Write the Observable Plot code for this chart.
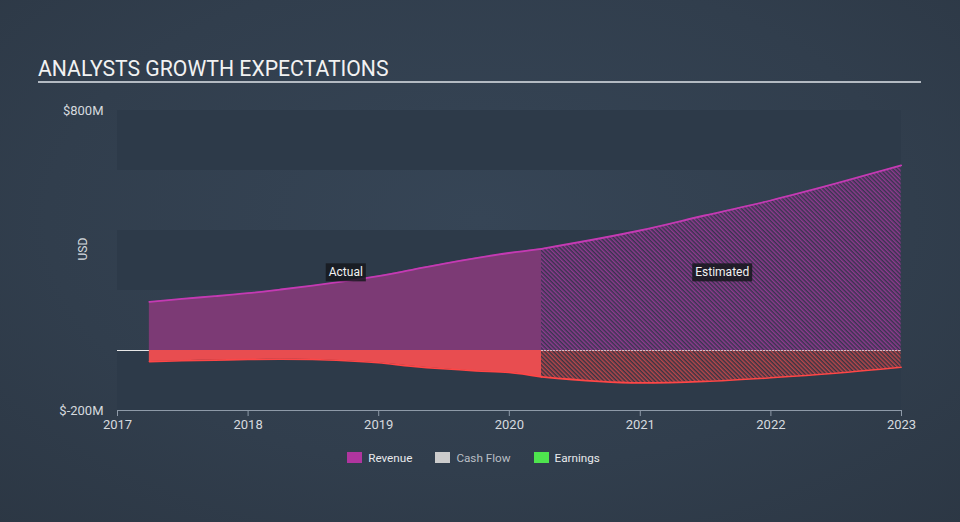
<!DOCTYPE html>
<html>
<head>
<meta charset="utf-8">
<script src="https://cdn.jsdelivr.net/npm/d3@7"></script>
<script src="https://cdn.jsdelivr.net/npm/@observablehq/plot@0.6"></script>
<style>
html, body { margin: 0; padding: 0; }
body {
  width: 960px; height: 522px; overflow: hidden; position: relative;
  background: radial-gradient(ellipse 75% 80% at 50% 42%, #364556 0%, #313e4d 60%, #2c3744 100%);
  font-family: Roboto, "Noto Sans", sans-serif;
}
#title { position: absolute; left: 38px; top: 57.8px; font-size: 21.2px; line-height: 21.2px; color: #f2f2f2; white-space: nowrap; }
#titleRule { position: absolute; left: 38px; top: 81px; width: 883px; height: 1.5px; background: #b3bac2; }
#chart { position: absolute; left: 0; top: 90px; }
#chart svg text { fill: #d6dadf; }
#legend { position: absolute; top: 451px; left: 0; width: 947px; height: 13px; display: flex; justify-content: center; align-items: center; font-size: 11.7px; color: #e6e8ea; }
.item { display: flex; align-items: center; margin: 0 11.5px; }
.sw { width: 15px; height: 11px; margin-right: 6px; }
</style>
</head>
<body>
<div id="title">ANALYSTS GROWTH EXPECTATIONS</div>
<div id="titleRule"></div>
<div id="chart"></div>
<div id="legend"></div>
<script>
// ---- data ----
const actualDates = ["2017-03-31","2017-06-30","2017-09-30","2017-12-31","2018-03-31","2018-06-30","2018-09-30","2018-12-31","2019-03-31","2019-06-30","2019-09-30","2019-12-31","2020-03-31"];
const actualRevenue = [162,172,181,191,203,216,231,248,268,289,308,325,339];
const actualEarnings = [-37,-34,-32,-30,-29,-30,-34,-41,-52,-61,-68,-73,-88];
const estDates = ["2020-03-31","2020-12-31","2021-06-30","2021-12-31","2022-06-30","2022-12-31"];
const estRevenue = [339,400,450,500,556,617];
const estEarnings = [-88,-108,-103,-91,-76,-56];
const xTickYears = [2017,2018,2019,2020,2021,2022,2023];
const yTicks = [-200, 800];
const bandLow = [600, 200, -200];
const bandHigh = [800, 400, 0];
const labelNames = ["Actual", "Estimated"];
const labelDates = ["2018-10-01", "2021-08-18"];
const labelValues = [260, 260];
const legendNames = ["Revenue", "Cash Flow", "Earnings"];
const legendColors = ["#b0359f", "#cccccc", "#4ee44e"];

// ---- build tables ----
const toDate = s => new Date(s + "T00:00:00Z");
const actual = actualDates.map((d, i) => ({date: toDate(d), revenue: actualRevenue[i], earnings: actualEarnings[i]}));
const est = estDates.map((d, i) => ({date: toDate(d), revenue: estRevenue[i], earnings: estEarnings[i]}));
const xDomain = [new Date(Date.UTC(xTickYears[0], 0, 1)), new Date(Date.UTC(xTickYears[xTickYears.length - 1], 0, 1))];
const xTicks = xTickYears.map(y => new Date(Date.UTC(y, 0, 1)));
const bands = bandLow.map((b, i) => ({y1: b, y2: bandHigh[i]}));
const labels = labelNames.map((t, i) => ({text: t, date: toDate(labelDates[i]), value: labelValues[i]}));
const estStart = est[0].date, estEnd = est[est.length - 1].date;

const curve = "monotone-x";
const chart = Plot.plot({
  width: 960,
  height: 350,
  marginLeft: 117,
  marginRight: 59,
  marginTop: 20,
  marginBottom: 30,
  style: {background: "transparent", color: "#8e9aa8", fontFamily: "Roboto, sans-serif", fontSize: "13px", overflow: "visible"},
  x: {type: "utc", domain: xDomain, ticks: xTicks, tickFormat: d => String(d.getUTCFullYear()), tickSize: 6, tickPadding: 3, line: true, label: null},
  y: {domain: [-200, 800], ticks: yTicks, tickFormat: d => `$${d}M`, tickSize: 0, tickPadding: 14, label: null},
  marks: [
    Plot.rect(bands, {x1: () => xDomain[0], x2: () => xDomain[1], y1: "y1", y2: "y2", fill: "#2d3a49"}),
    Plot.ruleY([0], {stroke: "#e8e8e8", strokeWidth: 1}),
    Plot.areaY(actual, {x: "date", y1: 0, y2: "revenue", fill: "#7c3a75", curve}),
    Plot.areaY(actual, {x: "date", y1: 0, y2: "earnings", fill: "#e84d50", curve}),
    Plot.areaY(est, {x: "date", y1: 0, y2: "revenue", fill: "url(#hatchRev)", curve}),
    Plot.areaY(est, {x: "date", y1: 0, y2: "earnings", fill: "url(#hatchEarn)", curve}),
    Plot.ruleY([0], {x1: () => estStart, x2: () => estEnd, stroke: "#f0dcea", strokeOpacity: 0.75, strokeWidth: 1, strokeDasharray: "2,1"}),
    Plot.line(actual, {x: "date", y: "revenue", stroke: "#c43ab3", strokeWidth: 1.8, curve}),
    Plot.line(est, {x: "date", y: "revenue", stroke: "#c43ab3", strokeWidth: 1.8, curve}),
    Plot.line(actual, {x: "date", y: "earnings", stroke: "#ff4646", strokeWidth: 1.6, curve}),
    Plot.line(est, {x: "date", y: "earnings", stroke: "#ff4646", strokeWidth: 1.6, curve}),
    Plot.text(["USD"], {frameAnchor: "left", dx: -34.5, rotate: -90, text: d => d, fontSize: 12}),
    Plot.text(labels, {x: "date", y: "value", text: "text", fontSize: 12})
  ]
});

d3.select(chart).insert("defs", ":first-child").html(`
  <pattern id="hatchRev" width="3" height="3" patternUnits="userSpaceOnUse" patternTransform="rotate(-45)">
    <rect width="3" height="3" fill="#3b3050" fill-opacity="0.7"></rect>
    <rect x="0" y="0" width="1.5" height="3" fill="#8e3a8e"></rect>
  </pattern>
  <pattern id="hatchEarn" width="3" height="3" patternUnits="userSpaceOnUse" patternTransform="rotate(-45)">
    <rect width="3" height="3" fill="#3a3240" fill-opacity="0.7"></rect>
    <rect x="0" y="0" width="1.5" height="3" fill="#b8464a"></rect>
  </pattern>`);

document.getElementById("chart").appendChild(chart);

// boxes behind the Actual / Estimated labels
d3.select(chart).selectAll("text").each(function() {
  if (labelNames.includes(this.textContent)) {
    const b = this.getBBox();
    const tr = this.getAttribute("transform");
    const r = document.createElementNS("http://www.w3.org/2000/svg", "rect");
    r.setAttribute("x", b.x - 3);
    r.setAttribute("y", b.y - 2);
    r.setAttribute("width", b.width + 6);
    r.setAttribute("height", b.height + 4);
    r.setAttribute("fill", "#16191d");
    r.setAttribute("fill-opacity", "0.85");
    if (tr) r.setAttribute("transform", tr);
    this.parentNode.insertBefore(r, this);
    this.style.fill = "#f2f2f2";
  }
});

// legend
const legend = d3.select("#legend");
legendNames.forEach((n, i) => {
  const it = legend.append("div").attr("class", "item");
  it.append("div").attr("class", "sw").style("background", legendColors[i]);
  it.append("span").text(n).style("color", n === "Cash Flow" ? "#b9bec4" : "#e8eaec");
});
</script>
</body>
</html>
